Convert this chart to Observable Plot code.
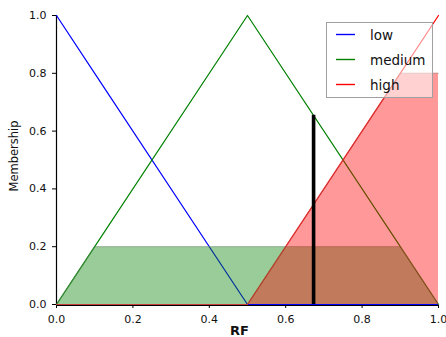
<!DOCTYPE html>
<html>
<head>
<meta charset="utf-8">
<script src="https://cdn.jsdelivr.net/npm/d3@7"></script>
<script src="https://cdn.jsdelivr.net/npm/@observablehq/plot@0.6"></script>
<style>
  html, body { margin: 0; padding: 0; background: #fff; }
  #wrap { position: relative; width: 446px; height: 337px; font-family: "DejaVu Sans", sans-serif; }
  #legend { position: absolute; left: 326px; top: 22px; width: 107px; height: 76px; overflow: visible; }
</style>
</head>
<body>
<div id="wrap"></div>
<script>
// Universe and membership functions (RF)
const universe = [0, 0.1, 0.5, 0.9, 1.0];
const lowMF    = [1, 0.8, 0, 0, 0];
const mediumMF = [0, 0.2, 1, 0.2, 0];
const highMF   = [0, 0, 0, 0.8, 1];
const termNames  = ["low", "medium", "high"];
const termColors = ["#0000ff", "#008000", "#ff0000"];
// Activation levels of each term
const activation = [0, 0.2, 0.8];
// Crisp output
const crispX = [0.673];
const crispY = [0.655];
const xTicks = [0, 0.2, 0.4, 0.6, 0.8, 1.0];
const yTicks = [0, 0.2, 0.4, 0.6, 0.8, 1.0];

const mfs = [lowMF, mediumMF, highMF];
const lineData = mfs.map((mf, k) => universe.map((x, i) => ({x, y: mf[i], term: termNames[k]})));
const fillData = mfs.map((mf, k) => universe.map((x, i) => ({x, y: Math.min(mf[i], activation[k]), term: termNames[k]})));
const crisp = crispX.map((x, i) => ({x, y: crispY[i]}));

const marks = [
  Plot.axisX({ticks: xTicks, tickFormat: d3.format(".1f"), tickSize: 4, tickPadding: 7, fontSize: 11, label: null, stroke: "#000"}),
  Plot.axisY({ticks: yTicks, tickFormat: d3.format(".1f"), tickSize: 4, tickPadding: 6, fontSize: 11, label: null, stroke: "#000"}),
  Plot.ruleX([0], {stroke: "#000", strokeWidth: 1.2}),
  Plot.ruleY([0], {stroke: "#000", strokeWidth: 1.2, dy: 1}),
];
// membership lines
lineData.forEach((d, k) => marks.push(Plot.line(d, {x: "x", y: "y", stroke: termColors[k], strokeWidth: 1.2})));
// activated fills (medium then high)
[1, 2].forEach(k => {
  marks.push(Plot.areaY(fillData[k], {x: "x", y: "y", fill: termColors[k], fillOpacity: 0.4}));
  marks.push(Plot.line(fillData[k], {x: "x", y: "y", stroke: "#888", strokeOpacity: 0.45, strokeWidth: 1}));
});
// crisp value
marks.push(Plot.ruleX(crisp, {x: "x", y1: 0, y2: "y", stroke: "#000", strokeWidth: 3.6}));
marks.push(Plot.text(["RF"], {frameAnchor: "bottom", lineAnchor: "middle", textAnchor: "middle", dx: -8, dy: 26, text: d => d, fontSize: 13, fontWeight: "bold", fill: "#111"}));
marks.push(Plot.text(["Membership"], {frameAnchor: "left", lineAnchor: "middle", textAnchor: "middle", rotate: -90, dx: -42, dy: -4, text: d => d, fontSize: 11.5, fill: "#111"}));

const chart = Plot.plot({
  width: 446,
  height: 337,
  marginLeft: 56,
  marginRight: 8,
  marginTop: 15,
  marginBottom: 33,
  style: {fontFamily: "DejaVu Sans, sans-serif", background: "#fff", color: "#111"},
  x: {domain: [0, 1]},
  y: {domain: [0, 1]},
  marks
});
const wrap = document.getElementById("wrap");
wrap.appendChild(chart);

// Legend (drawn as a small overlay svg)
const NS = "http://www.w3.org/2000/svg";
const lg = document.createElementNS(NS, "svg");
lg.setAttribute("id", "legend");
lg.setAttribute("width", "107");
lg.setAttribute("height", "76");
const box = document.createElementNS(NS, "rect");
box.setAttribute("x", "0.5"); box.setAttribute("y", "0.5");
box.setAttribute("width", "106"); box.setAttribute("height", "75");
box.setAttribute("fill", "#fff"); box.setAttribute("fill-opacity", "0.55");
box.setAttribute("stroke", "#a0a0a0"); box.setAttribute("stroke-width", "1");
lg.appendChild(box);
termNames.forEach((name, k) => {
  const cy = 12.5 + k * 25;
  const ln = document.createElementNS(NS, "line");
  ln.setAttribute("x1", "10"); ln.setAttribute("x2", "29");
  ln.setAttribute("y1", cy); ln.setAttribute("y2", cy);
  ln.setAttribute("stroke", termColors[k]); ln.setAttribute("stroke-width", "1.4");
  lg.appendChild(ln);
  const tx = document.createElementNS(NS, "text");
  tx.setAttribute("x", "44"); tx.setAttribute("y", cy + 5);
  tx.setAttribute("font-size", "13.5");
  tx.setAttribute("font-family", "DejaVu Sans, sans-serif");
  tx.setAttribute("fill", "#111");
  tx.textContent = name;
  lg.appendChild(tx);
});
wrap.appendChild(lg);
</script>
</body>
</html>
